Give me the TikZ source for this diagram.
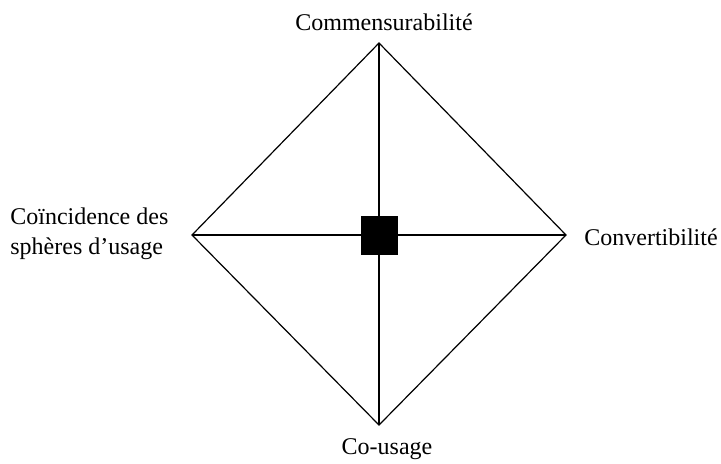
\documentclass[tikz,border=0pt]{standalone}
\usepackage{fontspec}
\setmainfont{Liberation Serif}
\newcommand{\lblfont}{\fontsize{12}{15}\selectfont}

\begin{document}
\begin{tikzpicture}[x=0.5pt, y=-0.5pt,
    edge/.style={draw, line width=0.6pt},
    lbl/.style={font=\lblfont, inner sep=0pt},
    core/.style={draw, fill=black, rectangle, minimum width=18pt, minimum height=19pt, inner sep=0pt}]
    \useasboundingbox (0,0) rectangle (721,463);

    % corners of the diamond
    \coordinate (top) at (379,43);
    \coordinate (right) at (566,235);
    \coordinate (bottom) at (379,425);
    \coordinate (left) at (192,235);

    % outline and cross
    \path[edge] (top) -- (right) -- (bottom) -- (left) -- cycle;
    \path[edge] (top) -- (bottom);
    \path[edge] (left) -- (right);

    \node[core] (centre) at (379,235.5) {};

    % labels
    \node[lbl, anchor=base] (comm) at (384,30) {Commensurabilit\'e};
    \node[lbl, anchor=base] (conv) at (651,245) {Convertibilit\'e};
    \node[lbl, anchor=base] (cous) at (387,454) {Co-usage};
    \node[lbl, anchor=north west, align=left] (coin) at (10,207) {Co\"incidence des\\sph\`eres d'usage};

\end{tikzpicture}
\end{document}
